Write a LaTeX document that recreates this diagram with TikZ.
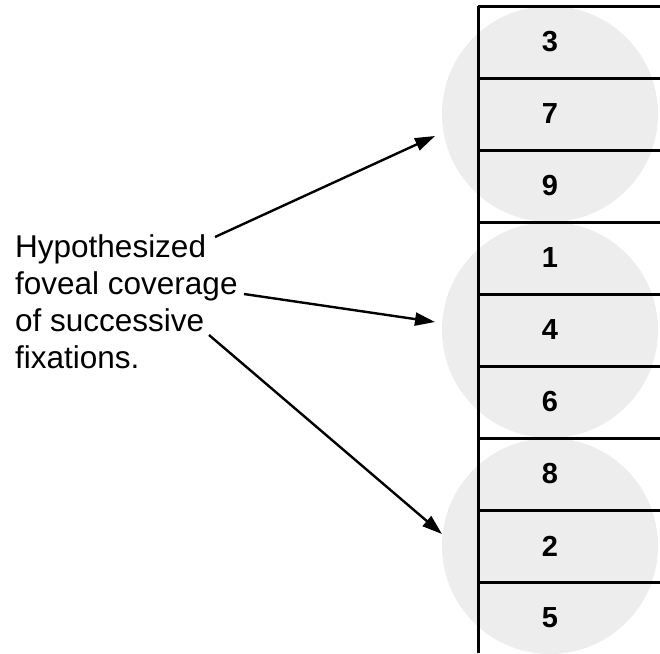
\documentclass[tikz,border=0pt]{standalone}
\usepackage{fontspec}
\setmainfont{Liberation Sans}
\usetikzlibrary{arrows.meta}
\definecolor{fovea}{RGB}{237,237,237}
\tikzset{
  rule/.style={line width=3pt},
  pointer/.style={line width=2.4pt,-{Triangle[length=20pt,width=13pt]}},
  digit/.style={font=\fontsize{29}{33}\selectfont\bfseries,inner sep=0pt},
  caption/.style={font=\fontsize{31.5}{37}\selectfont,align=left,inner sep=0pt,anchor=north west},
  fovealspot/.style={fill=fovea,draw=none}
}
\begin{document}
\begin{tikzpicture}[x=1pt,y=-1pt]
  \useasboundingbox (0,0) rectangle (660,653);
  % foveal coverage discs, one per fixation
  \foreach \cy in {114,330,546}
    \fill[fovealspot] (550,\cy) circle[radius=108];
  % column of cells
  \draw[rule] (478,6) -- (478,653);
  \foreach \k in {0,...,8}
    \draw[rule] (478,6+72*\k) -- (660,6+72*\k);
  % cell contents
  \foreach \d [count=\i from 0] in {3,7,9,1,4,6,8,2,5}
    \node[digit] (n\i) at (550,42+72*\i) {\d};
  % caption
  \node[caption] (cap) at (15,234) {Hypothesized\\foveal coverage\\of successive\\fixations.};
  % arrow endpoints
  \coordinate (s1) at (215,237);
  \coordinate (t1) at (435,136);
  \coordinate (s2) at (244,294);
  \coordinate (t2) at (435,322);
  \coordinate (s3) at (209,335);
  \coordinate (t3) at (442,534);
  \draw[pointer] (s1) -- (t1);
  \draw[pointer] (s2) -- (t2);
  \draw[pointer] (s3) -- (t3);
\end{tikzpicture}
\end{document}
